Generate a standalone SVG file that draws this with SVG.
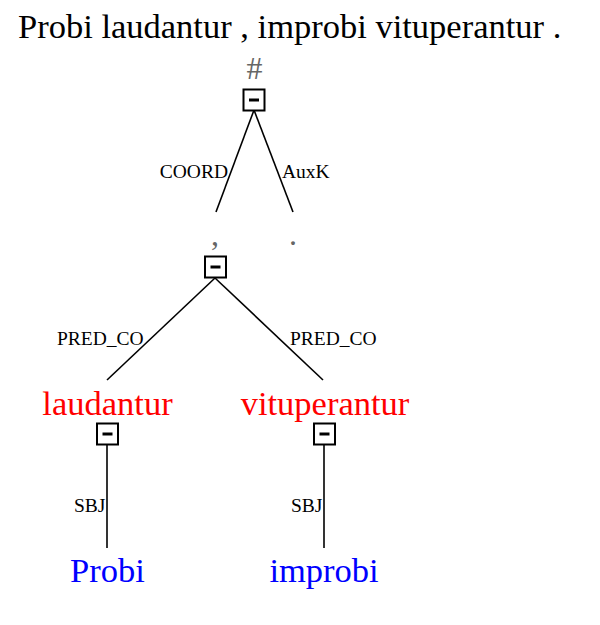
<svg xmlns="http://www.w3.org/2000/svg" width="600" height="625" viewBox="0 0 600 625">
<style>
.t{font-family:"Liberation Serif","Times New Roman",serif}
.title{font-size:34.5px;fill:#000}
.pred{font-size:34.5px;fill:#ff0000}
.arg{font-size:34.5px;fill:#0000ff}
.pun{font-size:32px;fill:#666}
.lab{font-size:19.5px;fill:#000}
.box{fill:#fff;stroke:#000;stroke-width:2}
.bar{stroke:#000;stroke-width:3}
.edge{stroke:#000;stroke-width:1.6;fill:none}
</style>
<defs>
<g id="col"><rect class="box" x="-10.5" y="-10.5" width="21" height="21"/><line class="bar" x1="-5" y1="0" x2="5" y2="0"/></g>
</defs>
<rect width="600" height="625" fill="#fff"/>
<text class="t title" x="18" y="38">Probi laudantur , improbi vituperantur .</text>
<g id="connectors">
<line class="edge" x1="254" y1="110" x2="216" y2="212"/>
<line class="edge" x1="254" y1="110" x2="293" y2="212"/>
<line class="edge" x1="215" y1="278" x2="107" y2="380"/>
<line class="edge" x1="215" y1="278" x2="323" y2="380"/>
<line class="edge" x1="107" y1="445" x2="107" y2="548"/>
<line class="edge" x1="324" y1="445" x2="324" y2="548"/>
<text class="t lab" x="228" y="178" text-anchor="end">COORD</text>
<text class="t lab" x="282" y="178">AuxK</text>
<text class="t lab" x="57" y="345">PRED_CO</text>
<text class="t lab" x="290" y="345">PRED_CO</text>
<text class="t lab" x="74" y="512">SBJ</text>
<text class="t lab" x="291" y="512">SBJ</text>
</g>
<g id="root"><text class="t pun" x="254.5" y="79" text-anchor="middle">#</text><use href="#col" x="254" y="100"/></g>
<g id="comma"><text class="t pun" x="215" y="245" text-anchor="middle">,</text><use href="#col" x="215.5" y="267"/></g>
<g id="period"><text class="t pun" x="293" y="245" text-anchor="middle">.</text></g>
<g id="laudantur"><text class="t pred" x="107.5" y="415" text-anchor="middle">laudantur</text><use href="#col" x="107.5" y="434"/></g>
<g id="vituperantur"><text class="t pred" x="325" y="415" text-anchor="middle">vituperantur</text><use href="#col" x="324.5" y="434"/></g>
<g id="Probi"><text class="t arg" x="107.5" y="582" text-anchor="middle">Probi</text></g>
<g id="improbi"><text class="t arg" x="324" y="582" text-anchor="middle">improbi</text></g>
</svg>
